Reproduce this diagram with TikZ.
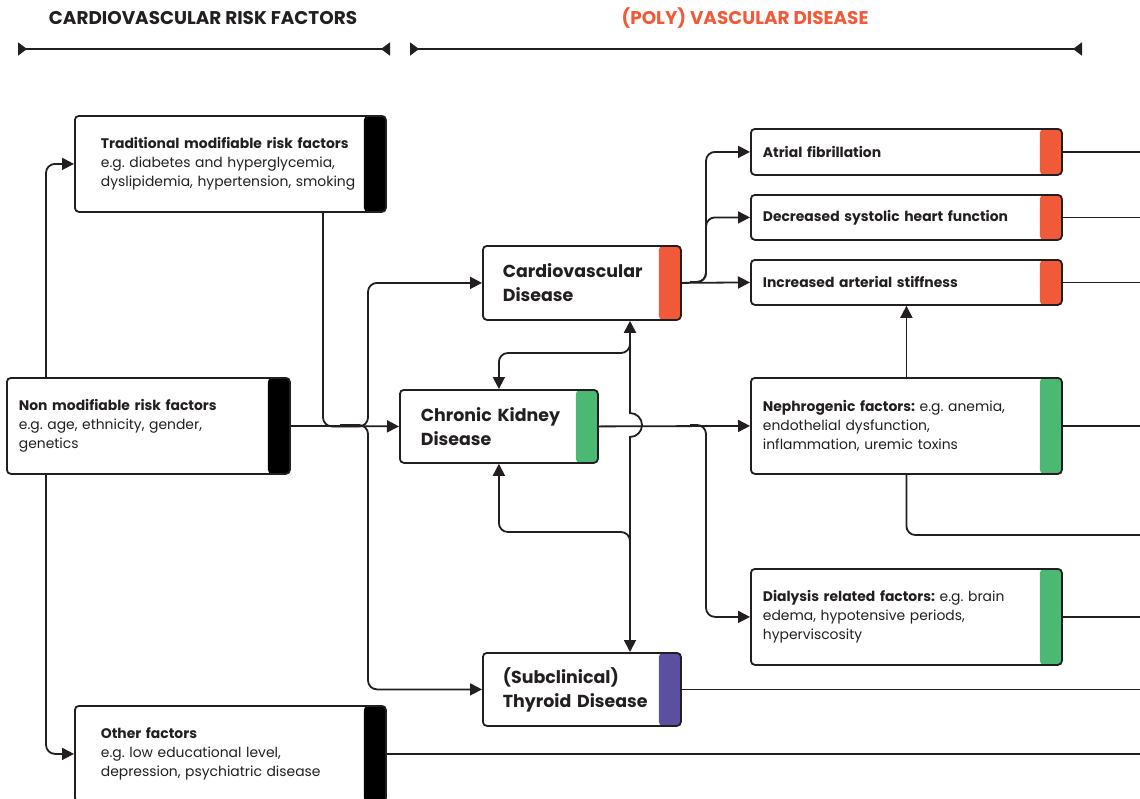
\documentclass[tikz,border=0pt]{standalone}
\usepackage{fontspec}
\setmainfont{Poppins}
\usetikzlibrary{arrows.meta}
\definecolor{ink}{HTML}{231F20}
\definecolor{cvred}{HTML}{F05A38}
\definecolor{ckgreen}{HTML}{4BB874}
\definecolor{thpurple}{HTML}{5B4FA0}
\tikzset{
  rbox/.style={draw=ink, line width=1.8pt, rounded corners=4pt, fill=white,
    inner sep=0pt, anchor=north west, align=left, text=ink},
  bar/.style={path picture={\fill[#1] ([xshift=-22pt]path picture bounding box.north east) rectangle (path picture bounding box.south east);}},
  line/.style={draw=ink, line width=1.8pt, rounded corners=9pt},
  conn/.style={line, -{Triangle[length=12pt,width=12pt]}},
  conn2/.style={line, sharp corners, {Triangle[length=12pt,width=12pt]}-{Triangle[length=12pt,width=12pt]}},
  hdr/.style={font=\bfseries\fontsize{18.4}{20}\selectfont},
  body/.style={font=\fontsize{13.9}{19}\selectfont},
  big/.style={font=\bfseries\fontsize{17.4}{24}\selectfont},
  small/.style={font=\fontsize{13.9}{19}\selectfont},
}
\frenchspacing
\begin{document}
\begin{tikzpicture}[x=1pt,y=-1pt]
\useasboundingbox (0,0) rectangle (1140,798);
\fill[white] (0,0) rectangle (1140,798);
% headers
\node[hdr, text=ink] (h1) at (203,18) {CARDIOVASCULAR RISK FACTORS};
\node[hdr, text=cvred] (h2) at (745,18) {(POLY) VASCULAR DISEASE};
\coordinate (l1a) at (18,49); \coordinate (l1b) at (390,49);
\coordinate (l2a) at (410,49); \coordinate (l2b) at (1082,49);
\draw[draw=ink, line width=1.8pt, {Triangle[reversed,length=9pt,width=13pt]}-{Triangle[reversed,length=9pt,width=13pt]}] (l1a) -- (l1b);
\draw[draw=ink, line width=1.8pt, {Triangle[reversed,length=9pt,width=13pt]}-{Triangle[reversed,length=9pt,width=13pt]}] (l2a) -- (l2b);

% boxes
\node[rbox, bar=black, body, minimum width=311pt, minimum height=96pt, text width=259pt] (trad) at (74,115)
  {\textbf{Traditional modifiable risk factors}\\e.g. diabetes and hyperglycemia,\\dyslipidemia, hypertension, smoking};
\node[rbox, bar=black, body, minimum width=283pt, minimum height=96pt, text width=259pt] (nonmod) at (6,377)
  {\textbf{Non modifiable risk factors}\\e.g. age, ethnicity, gender,\\genetics};
\node[rbox, bar=black, body, minimum width=311pt, minimum height=96pt, text width=259pt] (other) at (74,705)
  {\textbf{Other factors}\\e.g. low educational level,\\depression, psychiatric disease};
\node[rbox, bar=cvred, big, minimum width=198pt, minimum height=74pt, text width=158pt] (cvd) at (482,245)
  {Cardiovascular\\Disease};
\node[rbox, bar=ckgreen, big, minimum width=198pt, minimum height=73pt, text width=156pt] (ckd) at (399,389)
  {Chronic Kidney\\Disease};
\node[rbox, bar=thpurple, big, minimum width=198pt, minimum height=73pt, text width=158pt] (thy) at (482,652)
  {(Subclinical)\\Thyroid Disease};
\node[rbox, bar=cvred, small, minimum width=311pt, minimum height=46pt, text width=287pt] (af) at (750,128)
  {\textbf{Atrial fibrillation}};
\node[rbox, bar=cvred, small, minimum width=311pt, minimum height=45pt, text width=287pt] (dsh) at (750,194)
  {\textbf{Decreased systolic heart function}};
\node[rbox, bar=cvred, small, minimum width=311pt, minimum height=45pt, text width=287pt] (ias) at (750,259)
  {\textbf{Increased arterial stiffness}};
\node[rbox, bar=ckgreen, small, minimum width=311pt, minimum height=96pt, text width=287pt] (neph) at (750,377)
  {\textbf{Nephrogenic factors:} e.g. anemia,\\endothelial dysfunction,\\inflammation, uremic toxins};
\node[rbox, bar=ckgreen, small, minimum width=311pt, minimum height=96pt, text width=287pt] (dial) at (750,568)
  {\textbf{Dialysis related factors:} e.g. brain\\edema, hypotensive periods,\\hyperviscosity};

% helper coordinates
\coordinate (xL) at (46,0);
\coordinate (xT) at (323,0);
\coordinate (xJ) at (368,0);
\coordinate (xV) at (630,0);
\coordinate (xB) at (706,0);
\coordinate (R) at (1150,0);
\coordinate (yTop) at (0,353);
\coordinate (yBot) at (0,532);
\coordinate (yN) at (0,535);
\coordinate (jL) at (340,425);
\coordinate (jC) at (690,282);
\coordinate (jK) at (690,425);

% left connectors
\draw[conn] (nonmod.north -| xL) |- (trad.west);
\draw[conn] (nonmod.south -| xL) |- (other.west);
\draw[conn] (nonmod.east) -- (ckd.west);
\draw[conn] (trad.south -| xT) |- (xJ |- ckd.west) |- (cvd.west);
\draw[conn] (jL) -| (xJ |- thy.west) -- (thy.west);

% central vertical with jump
\draw[conn2] (cvd.south -| xV) -- (630,413) arc[start angle=-90, end angle=90, radius=12] -- (thy.north -| xV);
\draw[conn] (xV |- 0,335) |- (ckd.north |- yTop) -- (ckd.north);
\draw[conn] (xV |- 0,550) |- (ckd.south |- yBot) -- (ckd.south);

% right-middle connectors
\draw[conn] (ckd.east) -- (neph.west);
\draw[conn] (jK) -| (xB |- dial.west) -- (dial.west);
\draw[conn] (cvd.east) -- (ias.west);
\draw[conn] (jC) -| (xB |- dsh.west) -- (dsh.west);
\draw[conn] (jC) -| (xB |- af.west) -- (af.west);
\draw[conn] (neph.north) -- (ias.south);
\draw[line] (neph.south) |- (R |- yN);

% lines to right edge
\draw[line] (af.east) -- (af.east -| R);
\draw[line] (dsh.east) -- (dsh.east -| R);
\draw[line] (ias.east) -- (ias.east -| R);
\draw[line] (neph.east) -- (neph.east -| R);
\draw[line] (dial.east) -- (dial.east -| R);
\draw[line] (thy.east) -- (thy.east -| R);
\draw[line] (other.east) -- (other.east -| R);
\end{tikzpicture}
\end{document}
